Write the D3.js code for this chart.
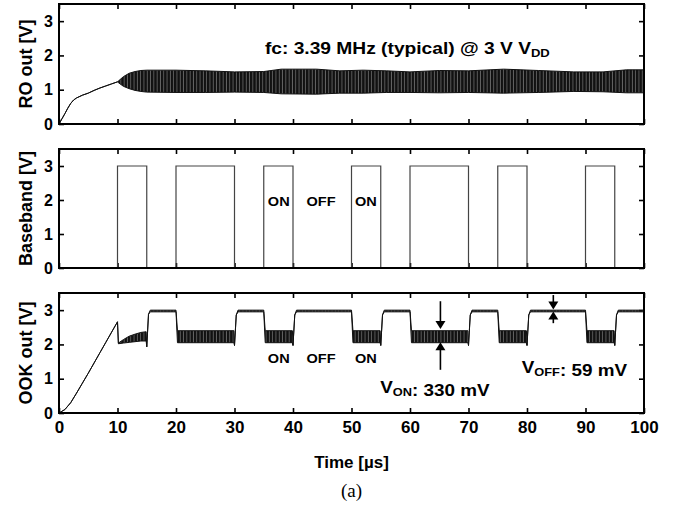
<!DOCTYPE html>
<html>
<head>
<meta charset="utf-8">
<script src="https://cdn.jsdelivr.net/npm/d3@7"></script>
<style>
body { margin: 0; background: #fff; }
svg text { font-family: "Liberation Sans", Arial, sans-serif; font-weight: bold; fill: #000; }
</style>
</head>
<body>
<div id="chart"></div>
<script>
// tick values
var timeTicks = [0, 10, 20, 30, 40, 50, 60, 70, 80, 90, 100];
var voltTicks = [0, 1, 2, 3];

// RO out: [time µs, upper envelope V, lower envelope V]
var roTrace = [
    [0, 0, 0], [0.5, 0.15, 0.15], [1, 0.3, 0.3], [1.5, 0.46, 0.46], [2, 0.6, 0.6],
    [2.5, 0.7, 0.7], [3, 0.76, 0.76], [4, 0.84, 0.84], [5, 0.9, 0.9], [6, 0.98, 0.98],
    [7, 1.05, 1.05], [8, 1.11, 1.11], [9, 1.17, 1.17], [10, 1.23, 1.23],
    [10.2, 1.26, 1.2], [11, 1.38, 1.1], [12, 1.48, 1.03], [13, 1.53, 0.98], [14, 1.56, 0.95],
    [15, 1.57, 0.93], [20, 1.57, 0.92], [25, 1.55, 0.92], [30, 1.52, 0.93], [35, 1.53, 0.92],
    [38, 1.6, 0.88], [44, 1.6, 0.87], [48, 1.55, 0.9], [52, 1.57, 0.9], [56, 1.55, 0.92],
    [60, 1.52, 0.92], [65, 1.56, 0.91], [70, 1.55, 0.92], [76, 1.6, 0.9], [82, 1.56, 0.92],
    [88, 1.52, 0.95], [93, 1.52, 0.94], [97, 1.58, 0.91], [100, 1.58, 0.91]
];

// Baseband square wave
var bbTime  = [0, 10, 15, 20, 30, 35, 40, 50, 55, 60, 70, 75, 80, 90, 95, 100];
var bbLevel = [0, 3, 0, 3, 0, 3, 0, 3, 0, 3, 0, 3, 0, 3, 0, 0];

// OOK out: [time µs, upper envelope V, lower envelope V]
var ookTrace = [
    [0, 0, 0], [1, 0.1, 0.1], [2, 0.3, 0.3], [3, 0.58, 0.58], [4, 0.87, 0.87], [5, 1.16, 1.16],
    [6, 1.46, 1.46], [7, 1.76, 1.76], [8, 2.06, 2.06], [9, 2.36, 2.36], [10, 2.66, 2.66],
    [10.15, 2.04, 2.02], [11, 2.14, 2.04], [12, 2.24, 2.06], [13, 2.3, 2.08], [14, 2.35, 2.1], [14.9, 2.37, 2.1],
    [15, 1.93, 1.93], [15.3, 2.88, 2.88], [15.6, 3.0, 2.95], [20, 3.0, 2.95],
    [20.25, 2.4, 2.05], [29.9, 2.4, 2.05], [30, 1.97, 1.97], [30.3, 2.86, 2.86], [30.6, 3.0, 2.95], [35, 3.0, 2.95],
    [35.25, 2.4, 2.05], [39.9, 2.4, 2.05], [40, 1.97, 1.97], [40.3, 2.86, 2.86], [40.6, 3.0, 2.95], [50, 3.0, 2.95],
    [50.25, 2.4, 2.05], [54.9, 2.4, 2.05], [55, 1.97, 1.97], [55.3, 2.86, 2.86], [55.6, 3.0, 2.95], [60, 3.0, 2.95],
    [60.25, 2.4, 2.05], [69.9, 2.4, 2.05], [70, 1.97, 1.97], [70.3, 2.86, 2.86], [70.6, 3.0, 2.95], [75, 3.0, 2.95],
    [75.25, 2.4, 2.05], [79.9, 2.4, 2.05], [80, 1.97, 1.97], [80.3, 2.86, 2.86], [80.6, 3.0, 2.95], [90, 3.0, 2.95],
    [90.25, 2.4, 2.05], [94.9, 2.4, 2.05], [95, 1.97, 1.97], [95.3, 2.86, 2.86], [95.6, 3.0, 2.95], [100, 3.0, 2.95]
];

var svgWidth = 681;
var svgHeight = 508;

var svg = d3.select("#chart")
    .append("svg")
    .attr("width", svgWidth)
    .attr("height", svgHeight);

// hatching so the dense oscillation reads like the scope trace
var pat = svg.append("defs").append("pattern")
    .attr("id", "osc")
    .attr("patternUnits", "userSpaceOnUse")
    .attr("width", 3.3)
    .attr("height", 10);
pat.append("rect").attr("width", 3.3).attr("height", 10).attr("fill", "#111");
pat.append("rect").attr("x", 1.6).attr("width", 0.7).attr("height", 10).attr("fill", "#fff").attr("opacity", 0.45);

var left = 59, right = 644;

// panel layout
var panels = [
    { top: 4,   bottom: 124, label: "RO out [V]" },
    { top: 149, bottom: 268, label: "Baseband [V]" },
    { top: 293, bottom: 413, label: "OOK out [V]" }
];

var x = d3.scaleLinear().domain([0, 100]).range([left, right]);

panels.forEach(function(p, i) {
    p.y = d3.scaleLinear().domain([0, 3.5]).range([p.bottom, p.top]);

    var g = svg.append("g");

    // ticks pointing inward on all four sides
    var leftAxis = g.append("g")
        .attr("transform", `translate(${left},0)`)
        .call(d3.axisLeft(p.y).tickValues(voltTicks).tickSize(-5).tickPadding(6).tickFormat(d3.format("d")));
    leftAxis.selectAll("text").style("font-size", "16px");

    g.append("g")
        .attr("transform", `translate(${right},0)`)
        .call(d3.axisRight(p.y).tickValues(voltTicks).tickSize(-5).tickFormat(""));

    g.append("g")
        .attr("transform", `translate(0,${p.top})`)
        .call(d3.axisTop(x).tickValues(timeTicks).tickSize(-5).tickFormat(""));

    var bottomAxis = d3.axisBottom(x).tickValues(timeTicks).tickSize(-5).tickPadding(8)
        .tickFormat(i < 2 ? "" : d3.format("d"));
    var bAxis = g.append("g")
        .attr("transform", `translate(0,${p.bottom})`)
        .call(bottomAxis);
    bAxis.selectAll("text").style("font-size", "17px");

    g.selectAll(".domain").remove();
    g.selectAll(".tick line").attr("stroke", "#000").attr("stroke-width", 1.6);

    // y label
    svg.append("text")
        .attr("transform", `translate(32,${(p.top + p.bottom) / 2}) rotate(-90)`)
        .attr("text-anchor", "middle")
        .style("font-size", "18px")
        .text(p.label);
});

var ro = panels[0], bb = panels[1], ook = panels[2];

// RO out trace
svg.append("path")
    .datum(roTrace)
    .attr("d", d3.area()
        .x(d => x(d[0]))
        .y0(d => ro.y(d[2]))
        .y1(d => ro.y(d[1])))
    .attr("fill", "url(#osc)")
    .attr("stroke", "#111")
    .attr("stroke-width", 1)
    .attr("stroke-linejoin", "round");

// baseband
svg.append("path")
    .datum(bbTime.map((t, k) => [t, bbLevel[k]]))
    .attr("d", d3.line()
        .x(d => x(d[0]))
        .y(d => bb.y(d[1]))
        .curve(d3.curveStepAfter))
    .attr("fill", "none")
    .attr("stroke", "#444")
    .attr("stroke-width", 1.2);

// OOK out trace
svg.append("path")
    .datum(ookTrace)
    .attr("d", d3.area()
        .x(d => x(d[0]))
        .y0(d => ook.y(d[2]))
        .y1(d => ook.y(d[1])))
    .attr("fill", "url(#osc)")
    .attr("stroke", "#111")
    .attr("stroke-width", 1)
    .attr("stroke-linejoin", "round");

// frames
panels.forEach(function(p) {
    svg.append("rect")
        .attr("x", left)
        .attr("y", p.top)
        .attr("width", right - left)
        .attr("height", p.bottom - p.top)
        .attr("fill", "none")
        .attr("stroke", "#000")
        .attr("stroke-width", 2);
});

// text helper: horizontally widened bold label with optional subscript
function label(px, py, size, parts, sx) {
    var t = svg.append("text")
        .attr("transform", `translate(${px},${py}) scale(${sx},1)`)
        .style("font-size", size + "px");
    parts.forEach(function(part) {
        if (part.sub) {
            t.append("tspan").attr("dy", 3).style("font-size", (size * 0.68) + "px").text(part.sub);
            t.append("tspan").attr("dy", -3).text("");
        } else {
            t.append("tspan").text(part.text);
        }
    });
    return t;
}

label(x(35.2), ro.y(2.05), 16, [{ text: "fc: 3.39 MHz (typical) @ 3 V V" }, { sub: "DD" }], 1.2);

label(x(35.7), bb.y(1.83), 13, [{ text: "ON" }], 1.12);
label(x(42.3), bb.y(1.83), 13, [{ text: "OFF" }], 1.12);
label(x(50.6), bb.y(1.83), 13, [{ text: "ON" }], 1.12);

label(x(35.7), ook.y(1.47), 13, [{ text: "ON" }], 1.12);
label(x(42.3), ook.y(1.47), 13, [{ text: "OFF" }], 1.12);
label(x(50.6), ook.y(1.47), 13, [{ text: "ON" }], 1.12);

label(x(54.9), ook.y(0.58), 16, [{ text: "V" }, { sub: "ON" }, { text: ": 330 mV" }], 1.18);
label(x(79.1), ook.y(1.16), 16, [{ text: "V" }, { sub: "OFF" }, { text: ": 59 mV" }], 1.18);

// measurement arrows
var arrows = [
    { t: 65.2, from: 3.26, to: 2.45 },
    { t: 65.2, from: 1.26, to: 2.06 },
    { t: 84.5, from: 3.44, to: 3.02 },
    { t: 84.5, from: 2.62, to: 2.96 }
];
arrows.forEach(function(a) {
    var ax = x(a.t), y0 = ook.y(a.from), y1 = ook.y(a.to);
    var dir = y1 > y0 ? 1 : -1;
    svg.append("line")
        .attr("x1", ax).attr("x2", ax)
        .attr("y1", y0).attr("y2", y1 - dir * 7)
        .attr("stroke", "#000").attr("stroke-width", 1.6);
    svg.append("path")
        .attr("d", `M${ax},${y1} L${ax - 5},${y1 - dir * 8} L${ax + 5},${y1 - dir * 8} Z`)
        .attr("fill", "#000");
});

// x axis title and caption
svg.append("text")
    .attr("x", (left + right) / 2)
    .attr("y", 468)
    .attr("text-anchor", "middle")
    .style("font-size", "17px")
    .text("Time [µs]");

svg.append("text")
    .attr("x", (left + right) / 2)
    .attr("y", 497)
    .attr("text-anchor", "middle")
    .style("font-family", "'Liberation Serif', 'Times New Roman', serif")
    .style("font-weight", "normal")
    .style("font-size", "19px")
    .text("(a)");
</script>
</body>
</html>
